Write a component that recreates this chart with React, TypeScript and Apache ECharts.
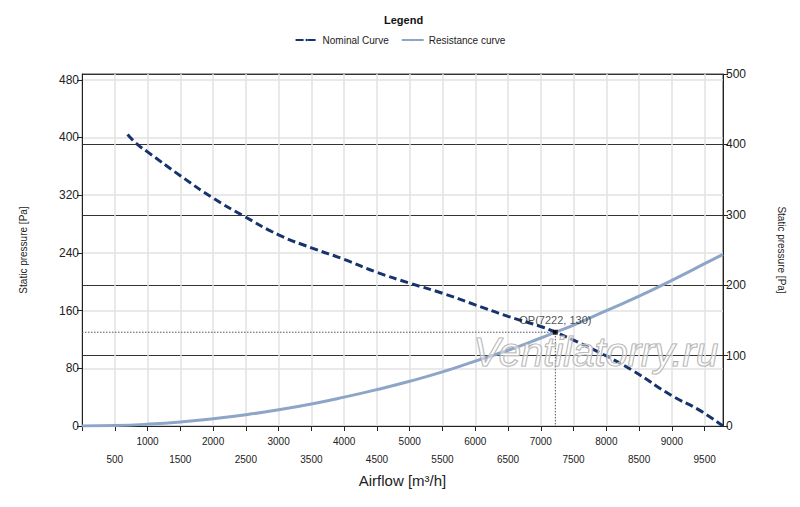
import React, { useEffect, useRef } from "react";
import * as echarts from "echarts";

const nominalX = [695, 850, 1000, 1500, 2000, 2450, 3000, 3500, 4000, 4500, 5000, 5500, 6000, 6500, 7000, 7222, 7500, 8000, 8400, 9000, 9400, 9780];
const nominalY = [404, 390, 380, 347, 316, 292, 265, 247, 231, 213, 198, 184, 168, 152, 138, 130, 119, 97, 77, 42, 23, 0];

const resistanceX = [0, 500, 1000, 1500, 2000, 2500, 3000, 3500, 4000, 4500, 5000, 5500, 6000, 6500, 7000, 7222, 7500, 8000, 8500, 9000, 9500, 9780];
const resistanceY = [0, 0.6, 2.5, 5.6, 10, 15.6, 22.4, 30.5, 40, 50.5, 62, 75, 90, 105, 122, 130, 140, 160, 180, 202, 225, 238];

const opPoint = [7222, 130];

const xTicks = [0, 500, 1000, 1500, 2000, 2500, 3000, 3500, 4000, 4500, 5000, 5500, 6000, 6500, 7000, 7500, 8000, 8500, 9000, 9500];
const xLabels = [500, 1000, 1500, 2000, 2500, 3000, 3500, 4000, 4500, 5000, 5500, 6000, 6500, 7000, 7500, 8000, 8500, 9000, 9500];
const leftTicks = [0, 80, 160, 240, 320, 400, 480];

const FONT = "Liberation Sans";

export default function App() {
  const ref = useRef<HTMLDivElement>(null);
  useEffect(() => {
    if (!ref.current) return;
    const chart = echarts.init(ref.current, null, { renderer: "svg" });
    const nominal = nominalX.map((x, i) => [x, nominalY[i]]);
    const resistance = resistanceX.map((x, i) => [x, resistanceY[i]]);
    chart.setOption({
      animation: false,
      backgroundColor: "#ffffff",
      textStyle: { fontFamily: FONT },
      grid: { left: 82, right: 77, top: 74, bottom: 81, show: true, borderColor: "#444", borderWidth: 1, containLabel: false },
      legend: {
        top: 30,
        left: "center",
        itemWidth: 22,
        itemHeight: 3,
        itemGap: 12,
        data: ["Nominal Curve", "Resistance curve"],
        textStyle: { fontSize: 10, color: "#222", fontFamily: FONT },
      },
      graphic: [
        {
          type: "text",
          left: 384,
          top: 14,
          style: { text: "Legend", font: `bold 11px "${FONT}"`, fill: "#111" },
        },
        {
          type: "text",
          left: 473,
          top: 331,
          z: 100,
          style: {
            text: "Ventilatorry.ru",
            font: `italic 40px "${FONT}"`,
            fill: "rgba(255,255,255,0.45)",
            stroke: "#a8a8a8",
            lineWidth: 1.2,
          },
        },
      ],
      xAxis: {
        type: "value",
        min: 0,
        max: 9780,
        name: "Airflow [m³/h]",
        nameLocation: "middle",
        nameGap: 45,
        nameTextStyle: { fontSize: 15, color: "#222", fontFamily: FONT },
        axisLine: { show: true, lineStyle: { color: "#222", width: 1 } },
        axisTick: { show: true, length: 5, lineStyle: { color: "#222" }, customValues: xTicks },
        axisLabel: {
          customValues: xLabels,
          fontSize: 10,
          color: "#222",
          margin: 6,
          lineHeight: 18,
          hideOverlap: false,
          formatter: (v: number) => (v % 1000 === 0 ? String(v) : "\n" + v),
        },
        splitLine: { show: true, lineStyle: { color: "#e2e2e2", width: 1.5 } },
      },
      yAxis: [
        {
          type: "value",
          position: "left",
          min: 0,
          max: 488,
          name: "Static pressure [Pa]",
          nameLocation: "middle",
          nameGap: 54,
          nameTextStyle: { fontSize: 10, color: "#222", fontFamily: FONT },
          axisLine: { show: true, lineStyle: { color: "#222" } },
          axisTick: { show: true, length: 5, lineStyle: { color: "#222" }, customValues: leftTicks },
          axisLabel: { customValues: leftTicks, fontSize: 12, color: "#222", margin: 3 },
          splitLine: { show: true, lineStyle: { color: "#e2e2e2", width: 1.5 } },
        },
        {
          type: "value",
          position: "right",
          min: 0,
          max: 500,
          interval: 100,
          name: "Static pressure [Pa]",
          nameLocation: "middle",
          nameRotate: -90,
          nameGap: 53,
          nameTextStyle: { fontSize: 10, color: "#222", fontFamily: FONT },
          axisLine: { show: true, lineStyle: { color: "#222" } },
          axisTick: { show: true, length: 5, lineStyle: { color: "#222" } },
          axisLabel: { fontSize: 12, color: "#222", margin: 3 },
          splitLine: { show: true, lineStyle: { color: "#333", width: 1 } },
        },
      ],
      series: [
        {
          name: "Resistance curve",
          type: "line",
          yAxisIndex: 0,
          data: resistance,
          smooth: true,
          symbol: "none",
          color: "#8da6c8",
          lineStyle: { color: "#8da6c8", width: 3 },
          z: 3,
        },
        {
          name: "Nominal Curve",
          type: "line",
          yAxisIndex: 0,
          data: nominal,
          smooth: true,
          symbol: "none",
          color: "#17336d",
          lineStyle: { color: "#17336d", width: 3, type: [8, 4] },
          z: 4,
        },
        {
          name: "OP lines",
          type: "line",
          yAxisIndex: 0,
          data: [[0, opPoint[1]], [opPoint[0], opPoint[1]], [opPoint[0], 0]],
          symbol: "none",
          silent: true,
          lineStyle: { color: "#555", width: 1, type: [1.5, 1.5] },
          z: 2,
        },
        {
          name: "OP",
          type: "scatter",
          yAxisIndex: 0,
          data: [opPoint],
          symbol: "rect",
          symbolSize: 5,
          itemStyle: { color: "#000" },
          label: {
            show: true,
            position: "top",
            distance: 4,
            formatter: () => `OP(${opPoint[0]}, ${opPoint[1]})`,
            fontSize: 11,
            color: "#222",
            fontFamily: FONT,
          },
          z: 5,
        },
      ],
    });
    return () => chart.dispose();
  }, []);
  return <div ref={ref} style={{ position: "absolute", left: 0, top: 0, width: 800, height: 507 }} />;
}
